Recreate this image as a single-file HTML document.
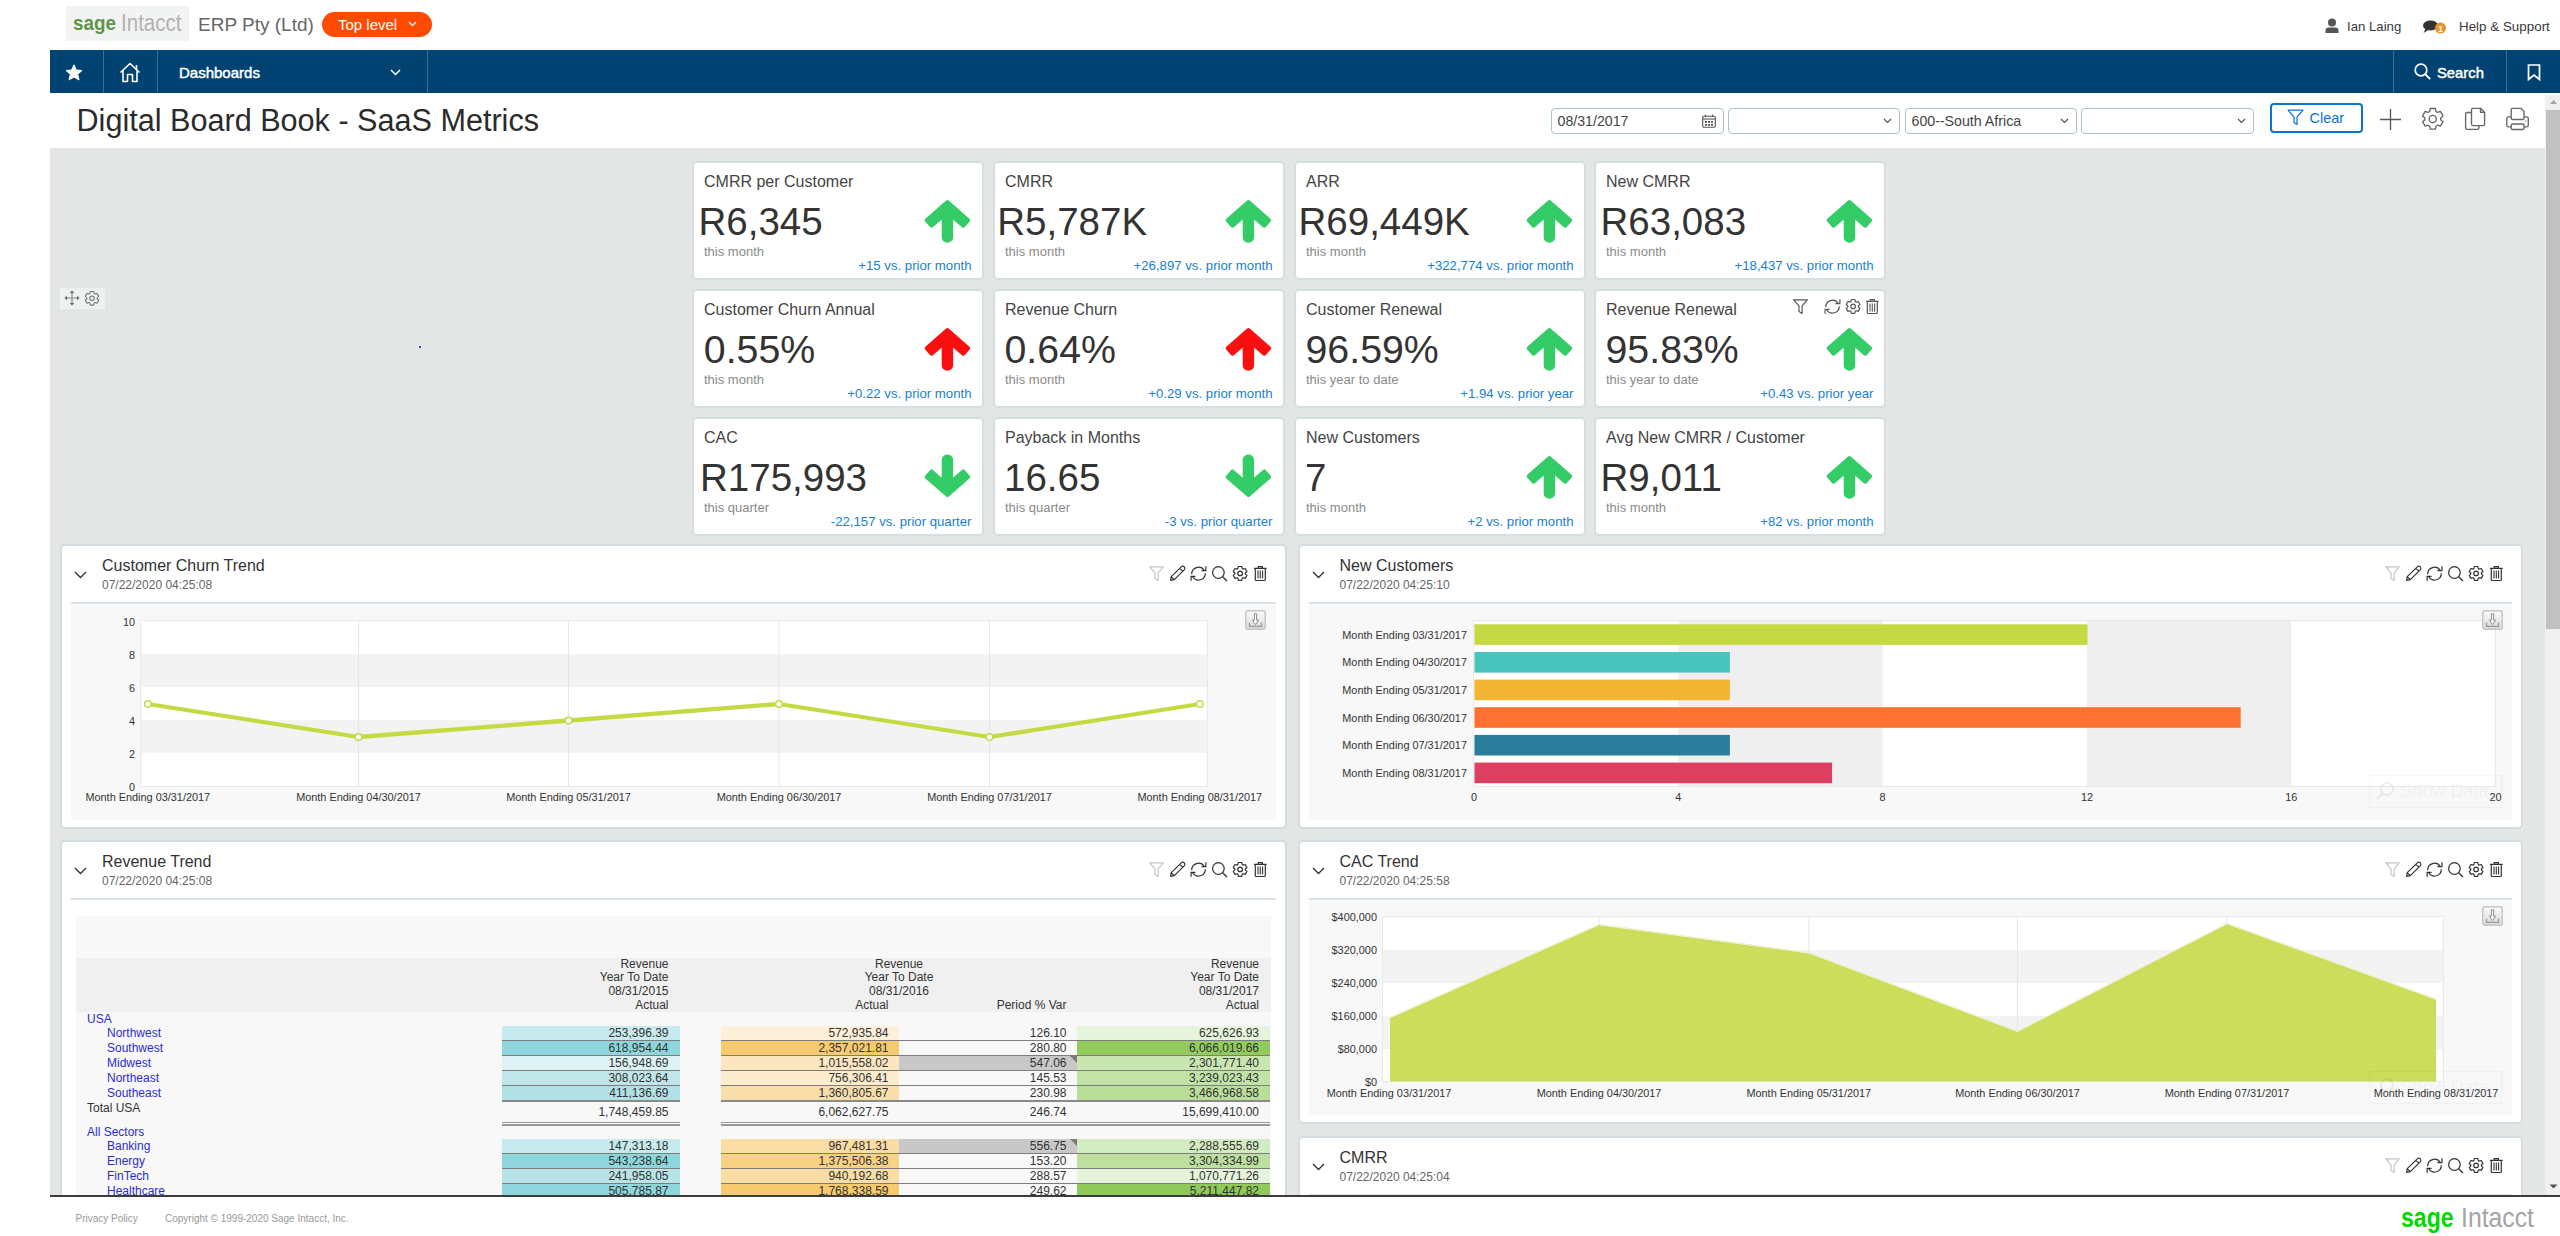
<!DOCTYPE html><html><head><meta charset="utf-8"><style>
html,body{margin:0;padding:0;}
body{width:2560px;height:1236px;overflow:hidden;position:relative;background:#fff;font-family:"Liberation Sans",sans-serif;}
.t{position:absolute;white-space:nowrap;}
.r{position:absolute;box-sizing:border-box;}
</style></head><body>
<div class="r" style="left:66px;top:6px;width:123px;height:35px;background:#f2f4f4;"></div>
<div class="t" style="left:72.80px;top:12.95px;font-size:20.5px;line-height:20.5px;color:#5f9548;font-weight:bold;transform:scaleX(0.92);transform-origin:0 0;">sage</div>
<div class="t" style="left:120.70px;top:12.01px;font-size:23.5px;line-height:23.5px;color:#b2b2b2;font-weight:normal;transform:scaleX(0.875);transform-origin:0 0;">Intacct</div>
<div class="t" style="left:198.00px;top:15.42px;font-size:19px;line-height:19px;color:#666;font-weight:normal;">ERP Pty (Ltd)</div>
<div class="r" style="left:322px;top:12px;width:110px;height:25px;background:#ff4a00;border-radius:13px;"></div>
<div class="t" style="left:338.00px;top:17.30px;font-size:15px;line-height:15px;color:#fff;font-weight:normal;">Top level</div>
<svg class="r" style="left:408px;top:21px;" width="9" height="6" viewBox="0 0 9 6"><path d="M1 1 L4.5 4.5 L8 1" fill="none" stroke="#fff" stroke-width="1.4"/></svg>
<svg class="r" style="left:2325px;top:18.3px;" width="14" height="15" viewBox="0 0 14 15"><circle cx="7" cy="4.5" r="4" fill="#555"/><path d="M0.5 15 L0.5 12.5 Q0.5 9.5 4 9.5 L10 9.5 Q13.5 9.5 13.5 12.5 L13.5 15 Z" fill="#555"/></svg>
<div class="t" style="left:2347.00px;top:20.33px;font-size:13.2px;line-height:13.2px;color:#3a3a3a;font-weight:normal;">Ian Laing</div>
<svg class="r" style="left:2422px;top:20px;" width="26" height="14" viewBox="0 0 26 14"><ellipse cx="8.5" cy="5.5" rx="7.5" ry="5" fill="#333"/><path d="M1.5 13 L4 8 L8 9 Z" fill="#333"/><circle cx="18.5" cy="8" r="5.5" fill="#e8922a"/><text x="18.5" y="11.5" font-size="9" font-weight="bold" text-anchor="middle" fill="#fff" font-family="Liberation Sans">1</text></svg>
<div class="t" style="left:2459.00px;top:20.16px;font-size:13.4px;line-height:13.4px;color:#3a3a3a;font-weight:normal;">Help &amp; Support</div>
<div class="r" style="left:50px;top:50px;width:2510px;height:43px;background:#004372;"></div>
<div class="r" style="left:103px;top:50px;width:1px;height:43px;background:#3e6c90;"></div>
<div class="r" style="left:157px;top:50px;width:1px;height:43px;background:#3e6c90;"></div>
<div class="r" style="left:427px;top:50px;width:1px;height:43px;background:#3e6c90;"></div>
<div class="r" style="left:2393px;top:50px;width:1px;height:43px;background:#3e6c90;"></div>
<div class="r" style="left:2506px;top:50px;width:1px;height:43px;background:#3e6c90;"></div>
<svg class="r" style="left:65px;top:64px;" width="18" height="18" viewBox="0 0 18 18"><path d="M9 0.8 L11.3 6 L17 6.5 L12.7 10.3 L14 16 L9 13 L4 16 L5.3 10.3 L1 6.5 L6.7 6 Z" fill="#fff" stroke="#fff" stroke-width="1" stroke-linejoin="round"/></svg>
<svg class="r" style="left:119px;top:61.7px;" width="22" height="21" viewBox="0 0 22 21"><path d="M1.5 10.5 L11 1.5 L20.5 10.5 M17.5 3 L17.5 7.5 M4 8.5 L4 19.5 L8.5 19.5 L8.5 12.5 L13.5 12.5 L13.5 19.5 L18 19.5 L18 8.5" fill="none" stroke="#fff" stroke-width="1.6" stroke-linejoin="round"/></svg>
<div class="t" style="left:179.00px;top:65.00px;font-size:15px;line-height:15px;color:#fff;font-weight:normal;-webkit-text-stroke:0.45px #fff;">Dashboards</div>
<svg class="r" style="left:390px;top:69px;" width="11" height="7" viewBox="0 0 11 7"><path d="M1 1 L5.5 5.5 L10 1" fill="none" stroke="#fff" stroke-width="1.5"/></svg>
<svg class="r" style="left:2414px;top:63px;" width="18" height="18" viewBox="0 0 18 18"><circle cx="7" cy="7" r="5.8" fill="none" stroke="#fff" stroke-width="1.7"/><path d="M11.2 11.2 L16.2 16.2" stroke="#fff" stroke-width="1.9"/></svg>
<div class="t" style="left:2437.00px;top:65.67px;font-size:14.8px;line-height:14.8px;color:#fff;font-weight:normal;-webkit-text-stroke:0.45px #fff;">Search</div>
<svg class="r" style="left:2527px;top:64px;" width="14" height="17" viewBox="0 0 14 17"><path d="M1.5 1 L12.5 1 L12.5 15.5 L7 11 L1.5 15.5 Z" fill="none" stroke="#fff" stroke-width="1.7" stroke-linejoin="miter"/></svg>
<div class="t" style="left:76.50px;top:105.10px;font-size:30.6px;line-height:30.6px;color:#2b2b2b;font-weight:normal;">Digital Board Book - SaaS Metrics</div>
<div class="r" style="left:1551px;top:108px;width:173px;height:26px;border:1px solid #a9c3cc;border-radius:4px;background:#fff;"></div>
<div class="t" style="left:1557.50px;top:114.38px;font-size:14.2px;line-height:14.2px;color:#444;font-weight:normal;">08/31/2017</div>
<svg class="r" style="left:1702px;top:114px;" width="14" height="14" viewBox="0 0 14 14"><rect x="0.7" y="2.2" width="12.6" height="11.1" rx="1.2" fill="none" stroke="#555" stroke-width="1.1"/><line x1="0.7" y1="5" x2="13.3" y2="5" stroke="#555" stroke-width="1.1"/><line x1="3.5" y1="0.5" x2="3.5" y2="3" stroke="#555" stroke-width="1.1"/><line x1="10.5" y1="0.5" x2="10.5" y2="3" stroke="#555" stroke-width="1.1"/><g fill="#555"><rect x="3" y="7" width="2" height="1.8"/><rect x="6" y="7" width="2" height="1.8"/><rect x="9" y="7" width="2" height="1.8"/><rect x="3" y="10" width="2" height="1.8"/><rect x="6" y="10" width="2" height="1.8"/><rect x="9" y="10" width="2" height="1.8"/></g></svg>
<div class="r" style="left:1728px;top:108px;width:172px;height:26px;border:1px solid #a9c3cc;border-radius:4px;background:#fff;"></div>
<svg class="r" style="left:1883px;top:118px;" width="9" height="6" viewBox="0 0 9 6"><path d="M1 1 L4.5 4.5 L8 1" fill="none" stroke="#555" stroke-width="1.2"/></svg>
<div class="r" style="left:1905px;top:108px;width:172px;height:26px;border:1px solid #a9c3cc;border-radius:4px;background:#fff;"></div>
<div class="t" style="left:1911.50px;top:114.38px;font-size:14.2px;line-height:14.2px;color:#444;font-weight:normal;">600--South Africa</div>
<svg class="r" style="left:2060px;top:118px;" width="9" height="6" viewBox="0 0 9 6"><path d="M1 1 L4.5 4.5 L8 1" fill="none" stroke="#555" stroke-width="1.2"/></svg>
<div class="r" style="left:2081px;top:108px;width:173px;height:26px;border:1px solid #a9c3cc;border-radius:4px;background:#fff;"></div>
<svg class="r" style="left:2237px;top:118px;" width="9" height="6" viewBox="0 0 9 6"><path d="M1 1 L4.5 4.5 L8 1" fill="none" stroke="#555" stroke-width="1.2"/></svg>
<div class="r" style="left:2270px;top:103px;width:93px;height:30px;border:2px solid #0a74cf;border-radius:4px;background:#fff;"></div>
<svg class="r" style="left:2287px;top:109px;" width="17" height="17" viewBox="0 0 17 17"><path d="M1 1.2 L16 1.2 L10 8.2 L10 15.5 L7 13.6 L7 8.2 Z" fill="none" stroke="#0a74cf" stroke-width="1.2" stroke-linejoin="round"/></svg>
<div class="t" style="left:2309.50px;top:110.73px;font-size:14.5px;line-height:14.5px;color:#0a74cf;font-weight:normal;">Clear</div>
<svg class="r" style="left:2380px;top:109px;" width="21" height="21" viewBox="0 0 21 21"><path d="M10.5 0 L10.5 21 M0 10.5 L21 10.5" stroke="#555" stroke-width="1.3"/></svg>
<svg class="r" style="left:2418px;top:104px" width="30" height="30" viewBox="2418 104 30 30"><path d="M2436.01 111.58 L2435.36 108.51 L2430.24 108.51 L2429.59 111.58 A7.90 7.90 0 0 0 2428.16 112.41 L2425.17 111.44 L2422.61 115.88 L2424.94 117.97 A7.90 7.90 0 0 0 2424.94 119.63 L2422.61 121.72 L2425.17 126.16 L2428.16 125.19 A7.90 7.90 0 0 0 2429.59 126.02 L2430.24 129.09 L2435.36 129.09 L2436.01 126.02 A7.90 7.90 0 0 0 2437.44 125.19 L2440.43 126.16 L2442.99 121.72 L2440.66 119.63 A7.90 7.90 0 0 0 2440.66 117.97 L2442.99 115.88 L2440.43 111.44 L2437.44 112.41 A7.90 7.90 0 0 0 2436.01 111.58 Z" fill="none" stroke="#666" stroke-width="1.35" stroke-linejoin="round"/><circle cx="2432.8" cy="119" r="3.6" fill="none" stroke="#666" stroke-width="1.35"/></svg>
<svg class="r" style="left:2460px;top:104px" width="30" height="30" viewBox="2460 104 30 30"><path d="M2471.5 112.5 L2467 112.5 Q2465.6 112.5 2465.6 114 L2465.6 128 Q2465.6 129.4 2467 129.4 L2477.5 129.4 Q2478.9 129.4 2478.9 128 L2478.9 125.6" fill="none" stroke="#666" stroke-width="1.35"/><path d="M2473 108.3 L2480.5 108.3 L2484.6 112.4 L2484.6 124 Q2484.6 125.6 2483 125.6 L2473 125.6 Q2471.5 125.6 2471.5 124 L2471.5 109.8 Q2471.5 108.3 2473 108.3 Z M2480.5 108.3 L2480.5 112.4 L2484.6 112.4" fill="none" stroke="#666" stroke-width="1.35" stroke-linejoin="round"/></svg>
<svg class="r" style="left:2502px;top:104px" width="30" height="30" viewBox="2502 104 30 30"><path d="M2511.2 116.8 L2508.5 116.8 Q2506.8 116.8 2506.8 118.8 L2506.8 125.2 Q2506.8 126.8 2508.5 126.8 L2511.2 126.8 M2524 116.8 L2526.6 116.8 Q2528.3 116.8 2528.3 118.8 L2528.3 125.2 Q2528.3 126.8 2526.6 126.8 L2524 126.8" fill="none" stroke="#666" stroke-width="1.35"/><path d="M2512.5 108.3 L2521 108.3 L2524 111.3 L2524 118.2 Q2524 119.5 2522.7 119.5 L2512.5 119.5 Q2511.2 119.5 2511.2 118.2 L2511.2 109.6 Q2511.2 108.3 2512.5 108.3 Z" fill="none" stroke="#666" stroke-width="1.35" stroke-linejoin="round"/><rect x="2511.2" y="124" width="12.8" height="5.5" rx="1.3" fill="none" stroke="#666" stroke-width="1.35"/><circle cx="2525.6" cy="121" r="0.7" fill="#888"/></svg>
<div class="r" style="left:50px;top:148px;width:2495px;height:1048px;background:#e4e6e6;"></div>
<div class="r" style="left:2545px;top:94.5px;width:15px;height:1101.5px;background:#f0f0f0;"></div>
<div class="r" style="left:2546px;top:110px;width:14px;height:519px;background:#c1c1c1;"></div>
<svg class="r" style="left:2548.5px;top:99px;" width="10" height="6" viewBox="0 0 10 6"><path d="M1 5 L4.5 1 L8 5 Z" fill="#a3a3a3"/></svg>
<svg class="r" style="left:2549px;top:1184px;" width="9" height="5" viewBox="0 0 9 5"><path d="M0.5 0.5 L8.5 0.5 L4.5 4.5 Z" fill="#505050"/></svg>
<div class="r" style="left:60px;top:288px;width:45px;height:21px;background:#eef1f2;"></div>
<svg class="r" style="left:64px;top:290px;" width="16" height="16" viewBox="0 0 16 16"><path d="M8 1.5 L8 14.5 M1.5 8 L14.5 8" stroke="#888" stroke-width="1.2"/><path d="M8 0.5 L5.8 3 L10.2 3 Z M8 15.5 L5.8 13 L10.2 13 Z M0.5 8 L3 5.8 L3 10.2 Z M15.5 8 L13 5.8 L13 10.2 Z" fill="#666"/></svg>
<svg class="r" style="left:83.3px;top:288.5px" width="20.0" height="20.0" viewBox="83.3 288.5 20.0 20.0"><path d="M94.49 293.11 L93.99 291.01 L90.61 291.01 L90.11 293.11 A5.18 5.18 0 0 0 89.33 293.56 L87.26 292.94 L85.57 295.87 L87.14 297.35 A5.18 5.18 0 0 0 87.14 298.25 L85.57 299.73 L87.26 302.66 L89.33 302.04 A5.18 5.18 0 0 0 90.11 302.49 L90.61 304.59 L93.99 304.59 L94.49 302.49 A5.18 5.18 0 0 0 95.27 302.04 L97.34 302.66 L99.03 299.73 L97.46 298.25 A5.18 5.18 0 0 0 97.46 297.35 L99.03 295.87 L97.34 292.94 L95.27 293.56 A5.18 5.18 0 0 0 94.49 293.11 Z" fill="none" stroke="#777" stroke-width="1.1" stroke-linejoin="round"/><circle cx="92.3" cy="297.8" r="2.24" fill="none" stroke="#777" stroke-width="1.1"/></svg>
<div class="r" style="left:419px;top:346px;width:2px;height:2px;background:#3a3adf;"></div>
<div class="r" style="left:692px;top:161px;width:292px;height:118.5px;background:#fff;border:2px solid #d6dee2;border-radius:5px;"></div>
<div class="t" style="left:704.00px;top:173.76px;font-size:16px;line-height:16px;color:#444;font-weight:normal;">CMRR per Customer</div>
<div class="t" style="left:698.50px;top:202.91px;font-size:38.5px;line-height:38.5px;color:#333;font-weight:normal;">R6,345</div>
<div class="t" style="left:704.00px;top:245.00px;font-size:13px;line-height:13px;color:#8a8a8a;font-weight:normal;">this month</div>
<div class="t" style="left:-228.50px;width:1200px;text-align:right;top:259.13px;font-size:13.2px;line-height:13.2px;color:#1a7fd0;font-weight:normal;">+15 vs. prior month</div>
<svg class="r" style="left:918px;top:192px" width="60" height="60" viewBox="918 192 60 60"><path d="M947.40 202.10 L968.17 220.15 L963.31 225.73 L951.10 215.12 L951.10 237.50 A3.7 3.2 0 0 1 943.70 237.50 L943.70 215.12 L931.49 225.73 L926.63 220.15 Z" fill="#34cc66" stroke="#34cc66" stroke-width="4" stroke-linejoin="round"/></svg>
<div class="r" style="left:993px;top:161px;width:292px;height:118.5px;background:#fff;border:2px solid #d6dee2;border-radius:5px;"></div>
<div class="t" style="left:1005.00px;top:173.76px;font-size:16px;line-height:16px;color:#444;font-weight:normal;">CMRR</div>
<div class="t" style="left:997.30px;top:202.91px;font-size:38.5px;line-height:38.5px;color:#333;font-weight:normal;">R5,787K</div>
<div class="t" style="left:1005.00px;top:245.00px;font-size:13px;line-height:13px;color:#8a8a8a;font-weight:normal;">this month</div>
<div class="t" style="left:72.50px;width:1200px;text-align:right;top:259.13px;font-size:13.2px;line-height:13.2px;color:#1a7fd0;font-weight:normal;">+26,897 vs. prior month</div>
<svg class="r" style="left:1219px;top:192px" width="60" height="60" viewBox="1219 192 60 60"><path d="M1248.40 202.10 L1269.17 220.15 L1264.31 225.73 L1252.10 215.12 L1252.10 237.50 A3.7 3.2 0 0 1 1244.70 237.50 L1244.70 215.12 L1232.49 225.73 L1227.63 220.15 Z" fill="#34cc66" stroke="#34cc66" stroke-width="4" stroke-linejoin="round"/></svg>
<div class="r" style="left:1294px;top:161px;width:292px;height:118.5px;background:#fff;border:2px solid #d6dee2;border-radius:5px;"></div>
<div class="t" style="left:1306.00px;top:173.76px;font-size:16px;line-height:16px;color:#444;font-weight:normal;">ARR</div>
<div class="t" style="left:1298.50px;top:202.91px;font-size:38.5px;line-height:38.5px;color:#333;font-weight:normal;">R69,449K</div>
<div class="t" style="left:1306.00px;top:245.00px;font-size:13px;line-height:13px;color:#8a8a8a;font-weight:normal;">this month</div>
<div class="t" style="left:373.50px;width:1200px;text-align:right;top:259.13px;font-size:13.2px;line-height:13.2px;color:#1a7fd0;font-weight:normal;">+322,774 vs. prior month</div>
<svg class="r" style="left:1520px;top:192px" width="60" height="60" viewBox="1520 192 60 60"><path d="M1549.40 202.10 L1570.17 220.15 L1565.31 225.73 L1553.10 215.12 L1553.10 237.50 A3.7 3.2 0 0 1 1545.70 237.50 L1545.70 215.12 L1533.49 225.73 L1528.63 220.15 Z" fill="#34cc66" stroke="#34cc66" stroke-width="4" stroke-linejoin="round"/></svg>
<div class="r" style="left:1594px;top:161px;width:292px;height:118.5px;background:#fff;border:2px solid #d6dee2;border-radius:5px;"></div>
<div class="t" style="left:1606.00px;top:173.76px;font-size:16px;line-height:16px;color:#444;font-weight:normal;">New CMRR</div>
<div class="t" style="left:1600.50px;top:202.91px;font-size:38.5px;line-height:38.5px;color:#333;font-weight:normal;">R63,083</div>
<div class="t" style="left:1606.00px;top:245.00px;font-size:13px;line-height:13px;color:#8a8a8a;font-weight:normal;">this month</div>
<div class="t" style="left:673.50px;width:1200px;text-align:right;top:259.13px;font-size:13.2px;line-height:13.2px;color:#1a7fd0;font-weight:normal;">+18,437 vs. prior month</div>
<svg class="r" style="left:1820px;top:192px" width="60" height="60" viewBox="1820 192 60 60"><path d="M1849.40 202.10 L1870.17 220.15 L1865.31 225.73 L1853.10 215.12 L1853.10 237.50 A3.7 3.2 0 0 1 1845.70 237.50 L1845.70 215.12 L1833.49 225.73 L1828.63 220.15 Z" fill="#34cc66" stroke="#34cc66" stroke-width="4" stroke-linejoin="round"/></svg>
<div class="r" style="left:692px;top:289px;width:292px;height:118.5px;background:#fff;border:2px solid #d6dee2;border-radius:5px;"></div>
<div class="t" style="left:704.00px;top:301.76px;font-size:16px;line-height:16px;color:#444;font-weight:normal;">Customer Churn Annual</div>
<div class="t" style="left:703.80px;top:330.23px;font-size:39.3px;line-height:39.3px;color:#333;font-weight:normal;">0.55%</div>
<div class="t" style="left:704.00px;top:373.00px;font-size:13px;line-height:13px;color:#8a8a8a;font-weight:normal;">this month</div>
<div class="t" style="left:-228.50px;width:1200px;text-align:right;top:387.13px;font-size:13.2px;line-height:13.2px;color:#1a7fd0;font-weight:normal;">+0.22 vs. prior month</div>
<svg class="r" style="left:918px;top:320px" width="60" height="60" viewBox="918 320 60 60"><path d="M947.40 330.10 L968.17 348.15 L963.31 353.73 L951.10 343.12 L951.10 365.50 A3.7 3.2 0 0 1 943.70 365.50 L943.70 343.12 L931.49 353.73 L926.63 348.15 Z" fill="#f90f0f" stroke="#f90f0f" stroke-width="4" stroke-linejoin="round"/></svg>
<div class="r" style="left:993px;top:289px;width:292px;height:118.5px;background:#fff;border:2px solid #d6dee2;border-radius:5px;"></div>
<div class="t" style="left:1005.00px;top:301.76px;font-size:16px;line-height:16px;color:#444;font-weight:normal;">Revenue Churn</div>
<div class="t" style="left:1004.50px;top:330.23px;font-size:39.3px;line-height:39.3px;color:#333;font-weight:normal;">0.64%</div>
<div class="t" style="left:1005.00px;top:373.00px;font-size:13px;line-height:13px;color:#8a8a8a;font-weight:normal;">this month</div>
<div class="t" style="left:72.50px;width:1200px;text-align:right;top:387.13px;font-size:13.2px;line-height:13.2px;color:#1a7fd0;font-weight:normal;">+0.29 vs. prior month</div>
<svg class="r" style="left:1219px;top:320px" width="60" height="60" viewBox="1219 320 60 60"><path d="M1248.40 330.10 L1269.17 348.15 L1264.31 353.73 L1252.10 343.12 L1252.10 365.50 A3.7 3.2 0 0 1 1244.70 365.50 L1244.70 343.12 L1232.49 353.73 L1227.63 348.15 Z" fill="#f90f0f" stroke="#f90f0f" stroke-width="4" stroke-linejoin="round"/></svg>
<div class="r" style="left:1294px;top:289px;width:292px;height:118.5px;background:#fff;border:2px solid #d6dee2;border-radius:5px;"></div>
<div class="t" style="left:1306.00px;top:301.76px;font-size:16px;line-height:16px;color:#444;font-weight:normal;">Customer Renewal</div>
<div class="t" style="left:1305.50px;top:330.23px;font-size:39.3px;line-height:39.3px;color:#333;font-weight:normal;">96.59%</div>
<div class="t" style="left:1306.00px;top:373.00px;font-size:13px;line-height:13px;color:#8a8a8a;font-weight:normal;">this year to date</div>
<div class="t" style="left:373.50px;width:1200px;text-align:right;top:387.13px;font-size:13.2px;line-height:13.2px;color:#1a7fd0;font-weight:normal;">+1.94 vs. prior year</div>
<svg class="r" style="left:1520px;top:320px" width="60" height="60" viewBox="1520 320 60 60"><path d="M1549.40 330.10 L1570.17 348.15 L1565.31 353.73 L1553.10 343.12 L1553.10 365.50 A3.7 3.2 0 0 1 1545.70 365.50 L1545.70 343.12 L1533.49 353.73 L1528.63 348.15 Z" fill="#34cc66" stroke="#34cc66" stroke-width="4" stroke-linejoin="round"/></svg>
<div class="r" style="left:1594px;top:289px;width:292px;height:118.5px;background:#fff;border:2px solid #d6dee2;border-radius:5px;"></div>
<div class="t" style="left:1606.00px;top:301.76px;font-size:16px;line-height:16px;color:#444;font-weight:normal;">Revenue Renewal</div>
<div class="t" style="left:1605.50px;top:330.23px;font-size:39.3px;line-height:39.3px;color:#333;font-weight:normal;">95.83%</div>
<div class="t" style="left:1606.00px;top:373.00px;font-size:13px;line-height:13px;color:#8a8a8a;font-weight:normal;">this year to date</div>
<div class="t" style="left:673.50px;width:1200px;text-align:right;top:387.13px;font-size:13.2px;line-height:13.2px;color:#1a7fd0;font-weight:normal;">+0.43 vs. prior year</div>
<svg class="r" style="left:1820px;top:320px" width="60" height="60" viewBox="1820 320 60 60"><path d="M1849.40 330.10 L1870.17 348.15 L1865.31 353.73 L1853.10 343.12 L1853.10 365.50 A3.7 3.2 0 0 1 1845.70 365.50 L1845.70 343.12 L1833.49 353.73 L1828.63 348.15 Z" fill="#34cc66" stroke="#34cc66" stroke-width="4" stroke-linejoin="round"/></svg>
<div class="r" style="left:692px;top:417px;width:292px;height:118.5px;background:#fff;border:2px solid #d6dee2;border-radius:5px;"></div>
<div class="t" style="left:704.00px;top:429.76px;font-size:16px;line-height:16px;color:#444;font-weight:normal;">CAC</div>
<div class="t" style="left:700.00px;top:458.91px;font-size:38.5px;line-height:38.5px;color:#333;font-weight:normal;">R175,993</div>
<div class="t" style="left:704.00px;top:501.00px;font-size:13px;line-height:13px;color:#8a8a8a;font-weight:normal;">this quarter</div>
<div class="t" style="left:-228.50px;width:1200px;text-align:right;top:515.13px;font-size:13.2px;line-height:13.2px;color:#1a7fd0;font-weight:normal;">-22,157 vs. prior quarter</div>
<svg class="r" style="left:918px;top:448px" width="60" height="60" viewBox="918 448 60 60"><path d="M947.40 495.10 L968.17 477.05 L963.31 471.47 L951.10 482.08 L951.10 459.70 A3.7 3.2 0 0 0 943.70 459.70 L943.70 482.08 L931.49 471.47 L926.63 477.05 Z" fill="#34cc66" stroke="#34cc66" stroke-width="4" stroke-linejoin="round"/></svg>
<div class="r" style="left:993px;top:417px;width:292px;height:118.5px;background:#fff;border:2px solid #d6dee2;border-radius:5px;"></div>
<div class="t" style="left:1005.00px;top:429.76px;font-size:16px;line-height:16px;color:#444;font-weight:normal;">Payback in Months</div>
<div class="t" style="left:1004.00px;top:458.91px;font-size:38.5px;line-height:38.5px;color:#333;font-weight:normal;">16.65</div>
<div class="t" style="left:1005.00px;top:501.00px;font-size:13px;line-height:13px;color:#8a8a8a;font-weight:normal;">this quarter</div>
<div class="t" style="left:72.50px;width:1200px;text-align:right;top:515.13px;font-size:13.2px;line-height:13.2px;color:#1a7fd0;font-weight:normal;">-3 vs. prior quarter</div>
<svg class="r" style="left:1219px;top:448px" width="60" height="60" viewBox="1219 448 60 60"><path d="M1248.40 495.10 L1269.17 477.05 L1264.31 471.47 L1252.10 482.08 L1252.10 459.70 A3.7 3.2 0 0 0 1244.70 459.70 L1244.70 482.08 L1232.49 471.47 L1227.63 477.05 Z" fill="#34cc66" stroke="#34cc66" stroke-width="4" stroke-linejoin="round"/></svg>
<div class="r" style="left:1294px;top:417px;width:292px;height:118.5px;background:#fff;border:2px solid #d6dee2;border-radius:5px;"></div>
<div class="t" style="left:1306.00px;top:429.76px;font-size:16px;line-height:16px;color:#444;font-weight:normal;">New Customers</div>
<div class="t" style="left:1305.00px;top:458.91px;font-size:38.5px;line-height:38.5px;color:#333;font-weight:normal;">7</div>
<div class="t" style="left:1306.00px;top:501.00px;font-size:13px;line-height:13px;color:#8a8a8a;font-weight:normal;">this month</div>
<div class="t" style="left:373.50px;width:1200px;text-align:right;top:515.13px;font-size:13.2px;line-height:13.2px;color:#1a7fd0;font-weight:normal;">+2 vs. prior month</div>
<svg class="r" style="left:1520px;top:448px" width="60" height="60" viewBox="1520 448 60 60"><path d="M1549.40 458.10 L1570.17 476.15 L1565.31 481.73 L1553.10 471.12 L1553.10 493.50 A3.7 3.2 0 0 1 1545.70 493.50 L1545.70 471.12 L1533.49 481.73 L1528.63 476.15 Z" fill="#34cc66" stroke="#34cc66" stroke-width="4" stroke-linejoin="round"/></svg>
<div class="r" style="left:1594px;top:417px;width:292px;height:118.5px;background:#fff;border:2px solid #d6dee2;border-radius:5px;"></div>
<div class="t" style="left:1606.00px;top:429.76px;font-size:16px;line-height:16px;color:#444;font-weight:normal;">Avg New CMRR / Customer</div>
<div class="t" style="left:1600.50px;top:458.91px;font-size:38.5px;line-height:38.5px;color:#333;font-weight:normal;">R9,011</div>
<div class="t" style="left:1606.00px;top:501.00px;font-size:13px;line-height:13px;color:#8a8a8a;font-weight:normal;">this month</div>
<div class="t" style="left:673.50px;width:1200px;text-align:right;top:515.13px;font-size:13.2px;line-height:13.2px;color:#1a7fd0;font-weight:normal;">+82 vs. prior month</div>
<svg class="r" style="left:1820px;top:448px" width="60" height="60" viewBox="1820 448 60 60"><path d="M1849.40 458.10 L1870.17 476.15 L1865.31 481.73 L1853.10 471.12 L1853.10 493.50 A3.7 3.2 0 0 1 1845.70 493.50 L1845.70 471.12 L1833.49 481.73 L1828.63 476.15 Z" fill="#34cc66" stroke="#34cc66" stroke-width="4" stroke-linejoin="round"/></svg>
<svg class="r" style="left:1791px;top:297px" width="20" height="20" viewBox="1791 297 20 20"><g transform="translate(1793,299)"><path d="M0.7 0.8 L14.3 0.8 L9.1 6.9 L9.1 14.4 L6 12.6 L6 6.9 Z" fill="none" stroke="#555" stroke-width="1.2" stroke-linejoin="round"/></g></svg>
<svg class="r" style="left:1823px;top:297px" width="20" height="20" viewBox="1823 297 20 20"><g transform="translate(1825,299)"><path d="M0.7 8.3 A6.8 6.8 0 0 1 13.2 4.4 M14.3 7.2 A6.8 6.8 0 0 1 1.8 11" fill="none" stroke="#555" stroke-width="1.2"/><path d="M14.9 0.2 L14.9 4.6 L10.5 4.6 M0.1 14.8 L0.1 10.4 L4.5 10.4" fill="none" stroke="#555" stroke-width="1.2"/></g></svg>
<svg class="r" style="left:1844px;top:297px" width="20" height="20" viewBox="1844 297 20 20"><path d="M1855.32 301.64 L1854.82 299.51 L1851.38 299.51 L1850.88 301.64 A5.25 5.25 0 0 0 1850.09 302.10 L1847.99 301.47 L1846.28 304.44 L1847.87 305.94 A5.25 5.25 0 0 0 1847.87 306.86 L1846.28 308.36 L1847.99 311.33 L1850.09 310.70 A5.25 5.25 0 0 0 1850.88 311.16 L1851.38 313.29 L1854.82 313.29 L1855.32 311.16 A5.25 5.25 0 0 0 1856.11 310.70 L1858.21 311.33 L1859.92 308.36 L1858.33 306.86 A5.25 5.25 0 0 0 1858.33 305.94 L1859.92 304.44 L1858.21 301.47 L1856.11 302.10 A5.25 5.25 0 0 0 1855.32 301.64 Z" fill="none" stroke="#555" stroke-width="1.2" stroke-linejoin="round"/><circle cx="1853.1" cy="306.40000000000003" r="2.27" fill="none" stroke="#555" stroke-width="1.2"/></svg>
<svg class="r" style="left:1864.3px;top:297px" width="20.0" height="20" viewBox="1864.3 297 20.0 20"><g transform="translate(1866.3,299)"><path d="M0 2.3 L12.6 2.3 M4.2 2.3 L4.2 0.6 L8.4 0.6 L8.4 2.3 M1.3 2.3 L1.3 13.6 Q1.3 14.5 2.2 14.5 L10.4 14.5 Q11.3 14.5 11.3 13.6 L11.3 2.3" fill="none" stroke="#555" stroke-width="1.2"/><path d="M4 4.6 L4 12.6 M6.3 4.6 L6.3 12.6 M8.6 4.6 L8.6 12.6" stroke="#555" stroke-width="1.1"/></g></svg>
<div class="r" style="left:60px;top:544px;width:1227px;height:285px;background:#fff;border:2px solid #d4dce1;border-radius:5px;"></div>
<svg class="r" style="left:74px;top:571px;" width="13" height="8" viewBox="0 0 13 8"><path d="M1 1 L6.5 6.5 L12 1" fill="none" stroke="#333" stroke-width="1.4"/></svg>
<div class="t" style="left:102.00px;top:557.76px;font-size:16px;line-height:16px;color:#333;font-weight:normal;">Customer Churn Trend</div>
<div class="t" style="left:102.00px;top:578.84px;font-size:12px;line-height:12px;color:#666;font-weight:normal;">07/22/2020 04:25:08</div>
<div class="r" style="left:71px;top:602px;width:1205px;height:2px;background:#d9e2e6;"></div>
<svg class="r" style="left:1147.0px;top:564px" width="20.0" height="20" viewBox="1147.0 564 20.0 20"><g transform="translate(1149.0,566)"><path d="M0.7 0.8 L14.3 0.8 L9.1 6.9 L9.1 14.4 L6 12.6 L6 6.9 Z" fill="none" stroke="#c4c4c4" stroke-width="1.2" stroke-linejoin="round"/></g></svg>
<svg class="r" style="left:1168.0px;top:564px" width="20.0" height="20" viewBox="1168.0 564 20.0 20"><g transform="translate(1170.0,566)"><path d="M0.6 14.4 L1.2 10.6 L11.3 0.9 Q12.9 -0.5 14.3 0.9 Q15.6 2.3 14.2 3.8 L4.3 13.7 Z M9.9 2.3 L12.8 5.2 M1.2 10.6 L4.3 13.7" fill="none" stroke="#333" stroke-width="1.2" stroke-linejoin="round"/></g></svg>
<svg class="r" style="left:1189.0px;top:564px" width="20.0" height="20" viewBox="1189.0 564 20.0 20"><g transform="translate(1191.0,566)"><path d="M0.7 8.3 A6.8 6.8 0 0 1 13.2 4.4 M14.3 7.2 A6.8 6.8 0 0 1 1.8 11" fill="none" stroke="#333" stroke-width="1.2"/><path d="M14.9 0.2 L14.9 4.6 L10.5 4.6 M0.1 14.8 L0.1 10.4 L4.5 10.4" fill="none" stroke="#333" stroke-width="1.2"/></g></svg>
<svg class="r" style="left:1209.5px;top:564px" width="20.0" height="20" viewBox="1209.5 564 20.0 20"><g transform="translate(1211.5,566)"><circle cx="6.4" cy="6.5" r="5.8" fill="none" stroke="#333" stroke-width="1.2"/><path d="M10.6 10.7 L15 15.1" stroke="#333" stroke-width="1.4"/></g></svg>
<svg class="r" style="left:1231.1px;top:564.2px" width="20.0" height="20.0" viewBox="1231.1 564.2 20.0 20.0"><path d="M1242.42 568.84 L1241.92 566.71 L1238.48 566.71 L1237.98 568.84 A5.25 5.25 0 0 0 1237.19 569.30 L1235.09 568.67 L1233.38 571.64 L1234.97 573.14 A5.25 5.25 0 0 0 1234.97 574.06 L1233.38 575.56 L1235.09 578.53 L1237.19 577.90 A5.25 5.25 0 0 0 1237.98 578.36 L1238.48 580.49 L1241.92 580.49 L1242.42 578.36 A5.25 5.25 0 0 0 1243.21 577.90 L1245.31 578.53 L1247.02 575.56 L1245.43 574.06 A5.25 5.25 0 0 0 1245.43 573.14 L1247.02 571.64 L1245.31 568.67 L1243.21 569.30 A5.25 5.25 0 0 0 1242.42 568.84 Z" fill="none" stroke="#333" stroke-width="1.2" stroke-linejoin="round"/><circle cx="1240.1999999999998" cy="573.6" r="2.27" fill="none" stroke="#333" stroke-width="1.2"/></svg>
<svg class="r" style="left:1251.9px;top:564.2px" width="20.0" height="20.0" viewBox="1251.9 564.2 20.0 20.0"><g transform="translate(1253.9,566.2)"><path d="M0 2.3 L12.6 2.3 M4.2 2.3 L4.2 0.6 L8.4 0.6 L8.4 2.3 M1.3 2.3 L1.3 13.6 Q1.3 14.5 2.2 14.5 L10.4 14.5 Q11.3 14.5 11.3 13.6 L11.3 2.3" fill="none" stroke="#333" stroke-width="1.2"/><path d="M4 4.6 L4 12.6 M6.3 4.6 L6.3 12.6 M8.6 4.6 L8.6 12.6" stroke="#333" stroke-width="1.1"/></g></svg>
<div class="r" style="left:71px;top:604px;width:1205px;height:216px;background:#f8f8f8;"></div>
<svg class="r" style="left:71px;top:604px" width="1205" height="216" viewBox="71 604 1205 216"><rect x="140.5" y="620.5" width="1067" height="166" fill="#fff" stroke="#e8e8e8"/><rect x="141" y="654" width="1066" height="33" fill="#f3f3f3"/><rect x="141" y="720" width="1066" height="33" fill="#f3f3f3"/><line x1="358.5" y1="621" x2="358.5" y2="786" stroke="#e6e6e6" stroke-width="1"/><line x1="568.5" y1="621" x2="568.5" y2="786" stroke="#e6e6e6" stroke-width="1"/><line x1="779" y1="621" x2="779" y2="786" stroke="#e6e6e6" stroke-width="1"/><line x1="989.5" y1="621" x2="989.5" y2="786" stroke="#e6e6e6" stroke-width="1"/><text x="135" y="625.5" font-size="10.9" text-anchor="end" fill="#333" font-family="Liberation Sans">10</text><text x="135" y="658.5" font-size="10.9" text-anchor="end" fill="#333" font-family="Liberation Sans">8</text><text x="135" y="691.6" font-size="10.9" text-anchor="end" fill="#333" font-family="Liberation Sans">6</text><text x="135" y="724.6" font-size="10.9" text-anchor="end" fill="#333" font-family="Liberation Sans">4</text><text x="135" y="757.7" font-size="10.9" text-anchor="end" fill="#333" font-family="Liberation Sans">2</text><text x="135" y="790.7" font-size="10.9" text-anchor="end" fill="#333" font-family="Liberation Sans">0</text><path d="M147.8 704.0 L358.5 737.0 L568.5 720.5 L779 704.0 L989.5 737.0 L1199.8 704.0" fill="none" stroke="#c5da42" stroke-width="4.3" stroke-linejoin="round"/><circle cx="147.8" cy="704.0" r="3.3" fill="#fff" stroke="#c5da42" stroke-width="1.5"/><circle cx="358.5" cy="737.0" r="3.3" fill="#fff" stroke="#c5da42" stroke-width="1.5"/><circle cx="568.5" cy="720.5" r="3.3" fill="#fff" stroke="#c5da42" stroke-width="1.5"/><circle cx="779" cy="704.0" r="3.3" fill="#fff" stroke="#c5da42" stroke-width="1.5"/><circle cx="989.5" cy="737.0" r="3.3" fill="#fff" stroke="#c5da42" stroke-width="1.5"/><circle cx="1199.8" cy="704.0" r="3.3" fill="#fff" stroke="#c5da42" stroke-width="1.5"/><text x="147.8" y="801" font-size="10.9" text-anchor="middle" fill="#333" font-family="Liberation Sans">Month Ending 03/31/2017</text><text x="358.5" y="801" font-size="10.9" text-anchor="middle" fill="#333" font-family="Liberation Sans">Month Ending 04/30/2017</text><text x="568.5" y="801" font-size="10.9" text-anchor="middle" fill="#333" font-family="Liberation Sans">Month Ending 05/31/2017</text><text x="779" y="801" font-size="10.9" text-anchor="middle" fill="#333" font-family="Liberation Sans">Month Ending 06/30/2017</text><text x="989.5" y="801" font-size="10.9" text-anchor="middle" fill="#333" font-family="Liberation Sans">Month Ending 07/31/2017</text><text x="1199.8" y="801" font-size="10.9" text-anchor="middle" fill="#333" font-family="Liberation Sans">Month Ending 08/31/2017</text></svg>
<svg class="r" style="left:1245px;top:610px;" width="21" height="20" viewBox="0 0 21 20"><defs><linearGradient id="g1245610" x1="0" y1="0" x2="0" y2="1"><stop offset="0" stop-color="#fbfbfb"/><stop offset="1" stop-color="#d9d9d9"/></linearGradient></defs><rect x="0.75" y="0.75" width="19.5" height="18.5" rx="2.5" fill="url(#g1245610)" stroke="#c6c6c6" stroke-width="1.5"/><path d="M4.5 12.8 L4.5 16.3 L16.5 16.3 L16.5 12.8" fill="none" stroke="#999" stroke-width="1.3"/><path d="M9.4 3.8 L11.6 3.8 L11.6 10.2 L13.6 10.2 L10.5 14.6 L7.4 10.2 L9.4 10.2 Z" fill="#fff" stroke="#8a8a8a" stroke-width="1" stroke-linejoin="round"/></svg>
<div class="r" style="left:1297.5px;top:544px;width:1225.5px;height:285px;background:#fff;border:2px solid #d4dce1;border-radius:5px;"></div>
<svg class="r" style="left:1311.5px;top:571px;" width="13" height="8" viewBox="0 0 13 8"><path d="M1 1 L6.5 6.5 L12 1" fill="none" stroke="#333" stroke-width="1.4"/></svg>
<div class="t" style="left:1339.50px;top:557.76px;font-size:16px;line-height:16px;color:#333;font-weight:normal;">New Customers</div>
<div class="t" style="left:1339.50px;top:578.84px;font-size:12px;line-height:12px;color:#666;font-weight:normal;">07/22/2020 04:25:10</div>
<div class="r" style="left:1308.5px;top:602px;width:1203.5px;height:2px;background:#d9e2e6;"></div>
<svg class="r" style="left:2383.0px;top:564px" width="20.0" height="20" viewBox="2383.0 564 20.0 20"><g transform="translate(2385.0,566)"><path d="M0.7 0.8 L14.3 0.8 L9.1 6.9 L9.1 14.4 L6 12.6 L6 6.9 Z" fill="none" stroke="#c4c4c4" stroke-width="1.2" stroke-linejoin="round"/></g></svg>
<svg class="r" style="left:2404.0px;top:564px" width="20.0" height="20" viewBox="2404.0 564 20.0 20"><g transform="translate(2406.0,566)"><path d="M0.6 14.4 L1.2 10.6 L11.3 0.9 Q12.9 -0.5 14.3 0.9 Q15.6 2.3 14.2 3.8 L4.3 13.7 Z M9.9 2.3 L12.8 5.2 M1.2 10.6 L4.3 13.7" fill="none" stroke="#333" stroke-width="1.2" stroke-linejoin="round"/></g></svg>
<svg class="r" style="left:2425.0px;top:564px" width="20.0" height="20" viewBox="2425.0 564 20.0 20"><g transform="translate(2427.0,566)"><path d="M0.7 8.3 A6.8 6.8 0 0 1 13.2 4.4 M14.3 7.2 A6.8 6.8 0 0 1 1.8 11" fill="none" stroke="#333" stroke-width="1.2"/><path d="M14.9 0.2 L14.9 4.6 L10.5 4.6 M0.1 14.8 L0.1 10.4 L4.5 10.4" fill="none" stroke="#333" stroke-width="1.2"/></g></svg>
<svg class="r" style="left:2445.5px;top:564px" width="20.0" height="20" viewBox="2445.5 564 20.0 20"><g transform="translate(2447.5,566)"><circle cx="6.4" cy="6.5" r="5.8" fill="none" stroke="#333" stroke-width="1.2"/><path d="M10.6 10.7 L15 15.1" stroke="#333" stroke-width="1.4"/></g></svg>
<svg class="r" style="left:2467.1px;top:564.2px" width="20.0" height="20.0" viewBox="2467.1 564.2 20.0 20.0"><path d="M2478.42 568.84 L2477.92 566.71 L2474.48 566.71 L2473.98 568.84 A5.25 5.25 0 0 0 2473.19 569.30 L2471.09 568.67 L2469.38 571.64 L2470.97 573.14 A5.25 5.25 0 0 0 2470.97 574.06 L2469.38 575.56 L2471.09 578.53 L2473.19 577.90 A5.25 5.25 0 0 0 2473.98 578.36 L2474.48 580.49 L2477.92 580.49 L2478.42 578.36 A5.25 5.25 0 0 0 2479.21 577.90 L2481.31 578.53 L2483.02 575.56 L2481.43 574.06 A5.25 5.25 0 0 0 2481.43 573.14 L2483.02 571.64 L2481.31 568.67 L2479.21 569.30 A5.25 5.25 0 0 0 2478.42 568.84 Z" fill="none" stroke="#333" stroke-width="1.2" stroke-linejoin="round"/><circle cx="2476.2" cy="573.6" r="2.27" fill="none" stroke="#333" stroke-width="1.2"/></svg>
<svg class="r" style="left:2487.9px;top:564.2px" width="20.0" height="20.0" viewBox="2487.9 564.2 20.0 20.0"><g transform="translate(2489.9,566.2)"><path d="M0 2.3 L12.6 2.3 M4.2 2.3 L4.2 0.6 L8.4 0.6 L8.4 2.3 M1.3 2.3 L1.3 13.6 Q1.3 14.5 2.2 14.5 L10.4 14.5 Q11.3 14.5 11.3 13.6 L11.3 2.3" fill="none" stroke="#333" stroke-width="1.2"/><path d="M4 4.6 L4 12.6 M6.3 4.6 L6.3 12.6 M8.6 4.6 L8.6 12.6" stroke="#333" stroke-width="1.1"/></g></svg>
<div class="r" style="left:1309px;top:604px;width:1203px;height:216px;background:#f8f8f8;"></div>
<svg class="r" style="left:1309px;top:604px" width="1203" height="216" viewBox="1309 604 1203 216"><rect x="1473.5" y="620.5" width="1022" height="166" fill="#fff" stroke="#e8e8e8"/><rect x="1678.32" y="621" width="204.32" height="165" fill="#efefef"/><rect x="2086.96" y="621" width="204.32" height="165" fill="#efefef"/><rect x="1474.5" y="624.3" width="612.96" height="20.6" fill="#c5d943"/><text x="1467" y="638.6" font-size="10.9" text-anchor="end" fill="#333" font-family="Liberation Sans">Month Ending 03/31/2017</text><rect x="1474.5" y="652.0" width="255.39999999999998" height="20.6" fill="#47c4bb"/><text x="1467" y="666.2" font-size="10.9" text-anchor="end" fill="#333" font-family="Liberation Sans">Month Ending 04/30/2017</text><rect x="1474.5" y="679.6" width="255.39999999999998" height="20.6" fill="#f4b434"/><text x="1467" y="693.9" font-size="10.9" text-anchor="end" fill="#333" font-family="Liberation Sans">Month Ending 05/31/2017</text><rect x="1474.5" y="707.2" width="766.1999999999999" height="20.6" fill="#fe7133"/><text x="1467" y="721.5" font-size="10.9" text-anchor="end" fill="#333" font-family="Liberation Sans">Month Ending 06/30/2017</text><rect x="1474.5" y="734.9" width="255.39999999999998" height="20.6" fill="#2a7d9b"/><text x="1467" y="749.2" font-size="10.9" text-anchor="end" fill="#333" font-family="Liberation Sans">Month Ending 07/31/2017</text><rect x="1474.5" y="762.6" width="357.56" height="20.6" fill="#dc3f60"/><text x="1467" y="776.9" font-size="10.9" text-anchor="end" fill="#333" font-family="Liberation Sans">Month Ending 08/31/2017</text><text x="1474.0" y="801.2" font-size="10.9" text-anchor="middle" fill="#333" font-family="Liberation Sans">0</text><text x="1678.32" y="801.2" font-size="10.9" text-anchor="middle" fill="#333" font-family="Liberation Sans">4</text><text x="1882.6399999999999" y="801.2" font-size="10.9" text-anchor="middle" fill="#333" font-family="Liberation Sans">8</text><text x="2086.96" y="801.2" font-size="10.9" text-anchor="middle" fill="#333" font-family="Liberation Sans">12</text><text x="2291.2799999999997" y="801.2" font-size="10.9" text-anchor="middle" fill="#333" font-family="Liberation Sans">16</text><text x="2495.6" y="801.2" font-size="10.9" text-anchor="middle" fill="#333" font-family="Liberation Sans">20</text></svg>
<svg class="r" style="left:2482px;top:610px;" width="21" height="20" viewBox="0 0 21 20"><defs><linearGradient id="g2482610" x1="0" y1="0" x2="0" y2="1"><stop offset="0" stop-color="#fbfbfb"/><stop offset="1" stop-color="#d9d9d9"/></linearGradient></defs><rect x="0.75" y="0.75" width="19.5" height="18.5" rx="2.5" fill="url(#g2482610)" stroke="#c6c6c6" stroke-width="1.5"/><path d="M4.5 12.8 L4.5 16.3 L16.5 16.3 L16.5 12.8" fill="none" stroke="#999" stroke-width="1.3"/><path d="M9.4 3.8 L11.6 3.8 L11.6 10.2 L13.6 10.2 L10.5 14.6 L7.4 10.2 L9.4 10.2 Z" fill="#fff" stroke="#8a8a8a" stroke-width="1" stroke-linejoin="round"/></svg>
<svg class="r" style="left:2369px;top:775px" width="133" height="33" viewBox="2369 775 133 33"><rect x="2369.5" y="775.5" width="132" height="32" fill="none" stroke="rgba(0,0,0,0.03)"/><circle cx="2387" cy="789" r="6" fill="none" stroke="rgba(0,0,0,0.06)" stroke-width="2"/><path d="M2382.5 793.5 L2377 799" stroke="rgba(0,0,0,0.06)" stroke-width="2.2"/><text x="2400.5" y="797" font-size="18" fill="rgba(0,0,0,0.055)" font-family="Liberation Sans">Show Data</text></svg>
<div class="r" style="left:1297.5px;top:840px;width:1225.5px;height:284px;background:#fff;border:2px solid #d4dce1;border-radius:5px;"></div>
<svg class="r" style="left:1311.5px;top:867px;" width="13" height="8" viewBox="0 0 13 8"><path d="M1 1 L6.5 6.5 L12 1" fill="none" stroke="#333" stroke-width="1.4"/></svg>
<div class="t" style="left:1339.50px;top:853.76px;font-size:16px;line-height:16px;color:#333;font-weight:normal;">CAC Trend</div>
<div class="t" style="left:1339.50px;top:874.84px;font-size:12px;line-height:12px;color:#666;font-weight:normal;">07/22/2020 04:25:58</div>
<div class="r" style="left:1308.5px;top:898px;width:1203.5px;height:2px;background:#d9e2e6;"></div>
<svg class="r" style="left:2383.0px;top:860px" width="20.0" height="20" viewBox="2383.0 860 20.0 20"><g transform="translate(2385.0,862)"><path d="M0.7 0.8 L14.3 0.8 L9.1 6.9 L9.1 14.4 L6 12.6 L6 6.9 Z" fill="none" stroke="#c4c4c4" stroke-width="1.2" stroke-linejoin="round"/></g></svg>
<svg class="r" style="left:2404.0px;top:860px" width="20.0" height="20" viewBox="2404.0 860 20.0 20"><g transform="translate(2406.0,862)"><path d="M0.6 14.4 L1.2 10.6 L11.3 0.9 Q12.9 -0.5 14.3 0.9 Q15.6 2.3 14.2 3.8 L4.3 13.7 Z M9.9 2.3 L12.8 5.2 M1.2 10.6 L4.3 13.7" fill="none" stroke="#333" stroke-width="1.2" stroke-linejoin="round"/></g></svg>
<svg class="r" style="left:2425.0px;top:860px" width="20.0" height="20" viewBox="2425.0 860 20.0 20"><g transform="translate(2427.0,862)"><path d="M0.7 8.3 A6.8 6.8 0 0 1 13.2 4.4 M14.3 7.2 A6.8 6.8 0 0 1 1.8 11" fill="none" stroke="#333" stroke-width="1.2"/><path d="M14.9 0.2 L14.9 4.6 L10.5 4.6 M0.1 14.8 L0.1 10.4 L4.5 10.4" fill="none" stroke="#333" stroke-width="1.2"/></g></svg>
<svg class="r" style="left:2445.5px;top:860px" width="20.0" height="20" viewBox="2445.5 860 20.0 20"><g transform="translate(2447.5,862)"><circle cx="6.4" cy="6.5" r="5.8" fill="none" stroke="#333" stroke-width="1.2"/><path d="M10.6 10.7 L15 15.1" stroke="#333" stroke-width="1.4"/></g></svg>
<svg class="r" style="left:2467.1px;top:860.2px" width="20.0" height="20.0" viewBox="2467.1 860.2 20.0 20.0"><path d="M2478.42 864.84 L2477.92 862.71 L2474.48 862.71 L2473.98 864.84 A5.25 5.25 0 0 0 2473.19 865.30 L2471.09 864.67 L2469.38 867.64 L2470.97 869.14 A5.25 5.25 0 0 0 2470.97 870.06 L2469.38 871.56 L2471.09 874.53 L2473.19 873.90 A5.25 5.25 0 0 0 2473.98 874.36 L2474.48 876.49 L2477.92 876.49 L2478.42 874.36 A5.25 5.25 0 0 0 2479.21 873.90 L2481.31 874.53 L2483.02 871.56 L2481.43 870.06 A5.25 5.25 0 0 0 2481.43 869.14 L2483.02 867.64 L2481.31 864.67 L2479.21 865.30 A5.25 5.25 0 0 0 2478.42 864.84 Z" fill="none" stroke="#333" stroke-width="1.2" stroke-linejoin="round"/><circle cx="2476.2" cy="869.6" r="2.27" fill="none" stroke="#333" stroke-width="1.2"/></svg>
<svg class="r" style="left:2487.9px;top:860.2px" width="20.0" height="20.0" viewBox="2487.9 860.2 20.0 20.0"><g transform="translate(2489.9,862.2)"><path d="M0 2.3 L12.6 2.3 M4.2 2.3 L4.2 0.6 L8.4 0.6 L8.4 2.3 M1.3 2.3 L1.3 13.6 Q1.3 14.5 2.2 14.5 L10.4 14.5 Q11.3 14.5 11.3 13.6 L11.3 2.3" fill="none" stroke="#333" stroke-width="1.2"/><path d="M4 4.6 L4 12.6 M6.3 4.6 L6.3 12.6 M8.6 4.6 L8.6 12.6" stroke="#333" stroke-width="1.1"/></g></svg>
<div class="r" style="left:1309px;top:900px;width:1203px;height:215px;background:#f8f8f8;"></div>
<svg class="r" style="left:1309px;top:900px" width="1203" height="215" viewBox="1309 900 1203 215"><rect x="1382.5" y="916.5" width="1061" height="165" fill="#fff" stroke="#e8e8e8"/><rect x="1383" y="950" width="1060" height="33" fill="#f3f3f3"/><rect x="1383" y="1016" width="1060" height="33" fill="#f3f3f3"/><line x1="1599" y1="917" x2="1599" y2="1081" stroke="#e6e6e6"/><line x1="1808.8" y1="917" x2="1808.8" y2="1081" stroke="#e6e6e6"/><line x1="2017.5" y1="917" x2="2017.5" y2="1081" stroke="#e6e6e6"/><line x1="2227" y1="917" x2="2227" y2="1081" stroke="#e6e6e6"/><text x="1377" y="921.0" font-size="10.9" text-anchor="end" fill="#333" font-family="Liberation Sans">$400,000</text><text x="1377" y="954.1" font-size="10.9" text-anchor="end" fill="#333" font-family="Liberation Sans">$320,000</text><text x="1377" y="987.2" font-size="10.9" text-anchor="end" fill="#333" font-family="Liberation Sans">$240,000</text><text x="1377" y="1020.2" font-size="10.9" text-anchor="end" fill="#333" font-family="Liberation Sans">$160,000</text><text x="1377" y="1053.3" font-size="10.9" text-anchor="end" fill="#333" font-family="Liberation Sans">$80,000</text><text x="1377" y="1086.4" font-size="10.9" text-anchor="end" fill="#333" font-family="Liberation Sans">$0</text><path d="M1390 1081.5 L1390 1018.3 L1599 925.2 L1808.8 953.4 L2017.5 1032 L2227 924.2 L2436 999.8 L2436 1081.5 Z" fill="#cbdd5a" stroke="none"/><path d="M1390 1017.5 L1599 924.4000000000001 L1808.8 952.6 L2017.5 1031.2 L2227 923.4000000000001 L2436 999.0" fill="none" stroke="#e9efc2" stroke-width="1"/><text x="1389" y="1097" font-size="10.9" text-anchor="middle" fill="#333" font-family="Liberation Sans">Month Ending 03/31/2017</text><text x="1599" y="1097" font-size="10.9" text-anchor="middle" fill="#333" font-family="Liberation Sans">Month Ending 04/30/2017</text><text x="1808.8" y="1097" font-size="10.9" text-anchor="middle" fill="#333" font-family="Liberation Sans">Month Ending 05/31/2017</text><text x="2017.5" y="1097" font-size="10.9" text-anchor="middle" fill="#333" font-family="Liberation Sans">Month Ending 06/30/2017</text><text x="2227" y="1097" font-size="10.9" text-anchor="middle" fill="#333" font-family="Liberation Sans">Month Ending 07/31/2017</text><text x="2436" y="1097" font-size="10.9" text-anchor="middle" fill="#333" font-family="Liberation Sans">Month Ending 08/31/2017</text></svg>
<svg class="r" style="left:2482px;top:906px;" width="21" height="20" viewBox="0 0 21 20"><defs><linearGradient id="g2482906" x1="0" y1="0" x2="0" y2="1"><stop offset="0" stop-color="#fbfbfb"/><stop offset="1" stop-color="#d9d9d9"/></linearGradient></defs><rect x="0.75" y="0.75" width="19.5" height="18.5" rx="2.5" fill="url(#g2482906)" stroke="#c6c6c6" stroke-width="1.5"/><path d="M4.5 12.8 L4.5 16.3 L16.5 16.3 L16.5 12.8" fill="none" stroke="#999" stroke-width="1.3"/><path d="M9.4 3.8 L11.6 3.8 L11.6 10.2 L13.6 10.2 L10.5 14.6 L7.4 10.2 L9.4 10.2 Z" fill="#fff" stroke="#8a8a8a" stroke-width="1" stroke-linejoin="round"/></svg>
<svg class="r" style="left:2369px;top:1071px" width="133" height="33" viewBox="2369 1071 133 33"><rect x="2369.5" y="1071.5" width="132" height="32" fill="none" stroke="rgba(0,0,0,0.03)"/><circle cx="2387" cy="1085" r="6" fill="none" stroke="rgba(0,0,0,0.06)" stroke-width="2"/><path d="M2382.5 1089.5 L2377 1095" stroke="rgba(0,0,0,0.06)" stroke-width="2.2"/><text x="2400.5" y="1093" font-size="18" fill="rgba(0,0,0,0.055)" font-family="Liberation Sans">Show Data</text></svg>
<div class="r" style="left:1297.5px;top:1136px;width:1225.5px;height:165px;background:#fff;border:2px solid #d4dce1;border-radius:5px;"></div>
<svg class="r" style="left:1311.5px;top:1163px;" width="13" height="8" viewBox="0 0 13 8"><path d="M1 1 L6.5 6.5 L12 1" fill="none" stroke="#333" stroke-width="1.4"/></svg>
<div class="t" style="left:1339.50px;top:1149.76px;font-size:16px;line-height:16px;color:#333;font-weight:normal;">CMRR</div>
<div class="t" style="left:1339.50px;top:1170.84px;font-size:12px;line-height:12px;color:#666;font-weight:normal;">07/22/2020 04:25:04</div>
<div class="r" style="left:1308.5px;top:1194px;width:1203.5px;height:2px;background:#d9e2e6;"></div>
<svg class="r" style="left:2383.0px;top:1156px" width="20.0" height="20" viewBox="2383.0 1156 20.0 20"><g transform="translate(2385.0,1158)"><path d="M0.7 0.8 L14.3 0.8 L9.1 6.9 L9.1 14.4 L6 12.6 L6 6.9 Z" fill="none" stroke="#c4c4c4" stroke-width="1.2" stroke-linejoin="round"/></g></svg>
<svg class="r" style="left:2404.0px;top:1156px" width="20.0" height="20" viewBox="2404.0 1156 20.0 20"><g transform="translate(2406.0,1158)"><path d="M0.6 14.4 L1.2 10.6 L11.3 0.9 Q12.9 -0.5 14.3 0.9 Q15.6 2.3 14.2 3.8 L4.3 13.7 Z M9.9 2.3 L12.8 5.2 M1.2 10.6 L4.3 13.7" fill="none" stroke="#333" stroke-width="1.2" stroke-linejoin="round"/></g></svg>
<svg class="r" style="left:2425.0px;top:1156px" width="20.0" height="20" viewBox="2425.0 1156 20.0 20"><g transform="translate(2427.0,1158)"><path d="M0.7 8.3 A6.8 6.8 0 0 1 13.2 4.4 M14.3 7.2 A6.8 6.8 0 0 1 1.8 11" fill="none" stroke="#333" stroke-width="1.2"/><path d="M14.9 0.2 L14.9 4.6 L10.5 4.6 M0.1 14.8 L0.1 10.4 L4.5 10.4" fill="none" stroke="#333" stroke-width="1.2"/></g></svg>
<svg class="r" style="left:2445.5px;top:1156px" width="20.0" height="20" viewBox="2445.5 1156 20.0 20"><g transform="translate(2447.5,1158)"><circle cx="6.4" cy="6.5" r="5.8" fill="none" stroke="#333" stroke-width="1.2"/><path d="M10.6 10.7 L15 15.1" stroke="#333" stroke-width="1.4"/></g></svg>
<svg class="r" style="left:2467.1px;top:1156.2px" width="20.0" height="20.0" viewBox="2467.1 1156.2 20.0 20.0"><path d="M2478.42 1160.84 L2477.92 1158.71 L2474.48 1158.71 L2473.98 1160.84 A5.25 5.25 0 0 0 2473.19 1161.30 L2471.09 1160.67 L2469.38 1163.64 L2470.97 1165.14 A5.25 5.25 0 0 0 2470.97 1166.06 L2469.38 1167.56 L2471.09 1170.53 L2473.19 1169.90 A5.25 5.25 0 0 0 2473.98 1170.36 L2474.48 1172.49 L2477.92 1172.49 L2478.42 1170.36 A5.25 5.25 0 0 0 2479.21 1169.90 L2481.31 1170.53 L2483.02 1167.56 L2481.43 1166.06 A5.25 5.25 0 0 0 2481.43 1165.14 L2483.02 1163.64 L2481.31 1160.67 L2479.21 1161.30 A5.25 5.25 0 0 0 2478.42 1160.84 Z" fill="none" stroke="#333" stroke-width="1.2" stroke-linejoin="round"/><circle cx="2476.2" cy="1165.6" r="2.27" fill="none" stroke="#333" stroke-width="1.2"/></svg>
<svg class="r" style="left:2487.9px;top:1156.2px" width="20.0" height="20.0" viewBox="2487.9 1156.2 20.0 20.0"><g transform="translate(2489.9,1158.2)"><path d="M0 2.3 L12.6 2.3 M4.2 2.3 L4.2 0.6 L8.4 0.6 L8.4 2.3 M1.3 2.3 L1.3 13.6 Q1.3 14.5 2.2 14.5 L10.4 14.5 Q11.3 14.5 11.3 13.6 L11.3 2.3" fill="none" stroke="#333" stroke-width="1.2"/><path d="M4 4.6 L4 12.6 M6.3 4.6 L6.3 12.6 M8.6 4.6 L8.6 12.6" stroke="#333" stroke-width="1.1"/></g></svg>
<div class="r" style="left:60px;top:840px;width:1227px;height:461px;background:#fff;border:2px solid #d4dce1;border-radius:5px;"></div>
<svg class="r" style="left:74px;top:867px;" width="13" height="8" viewBox="0 0 13 8"><path d="M1 1 L6.5 6.5 L12 1" fill="none" stroke="#333" stroke-width="1.4"/></svg>
<div class="t" style="left:102.00px;top:853.76px;font-size:16px;line-height:16px;color:#333;font-weight:normal;">Revenue Trend</div>
<div class="t" style="left:102.00px;top:874.84px;font-size:12px;line-height:12px;color:#666;font-weight:normal;">07/22/2020 04:25:08</div>
<div class="r" style="left:71px;top:898px;width:1205px;height:2px;background:#d9e2e6;"></div>
<svg class="r" style="left:1147.0px;top:860px" width="20.0" height="20" viewBox="1147.0 860 20.0 20"><g transform="translate(1149.0,862)"><path d="M0.7 0.8 L14.3 0.8 L9.1 6.9 L9.1 14.4 L6 12.6 L6 6.9 Z" fill="none" stroke="#c4c4c4" stroke-width="1.2" stroke-linejoin="round"/></g></svg>
<svg class="r" style="left:1168.0px;top:860px" width="20.0" height="20" viewBox="1168.0 860 20.0 20"><g transform="translate(1170.0,862)"><path d="M0.6 14.4 L1.2 10.6 L11.3 0.9 Q12.9 -0.5 14.3 0.9 Q15.6 2.3 14.2 3.8 L4.3 13.7 Z M9.9 2.3 L12.8 5.2 M1.2 10.6 L4.3 13.7" fill="none" stroke="#333" stroke-width="1.2" stroke-linejoin="round"/></g></svg>
<svg class="r" style="left:1189.0px;top:860px" width="20.0" height="20" viewBox="1189.0 860 20.0 20"><g transform="translate(1191.0,862)"><path d="M0.7 8.3 A6.8 6.8 0 0 1 13.2 4.4 M14.3 7.2 A6.8 6.8 0 0 1 1.8 11" fill="none" stroke="#333" stroke-width="1.2"/><path d="M14.9 0.2 L14.9 4.6 L10.5 4.6 M0.1 14.8 L0.1 10.4 L4.5 10.4" fill="none" stroke="#333" stroke-width="1.2"/></g></svg>
<svg class="r" style="left:1209.5px;top:860px" width="20.0" height="20" viewBox="1209.5 860 20.0 20"><g transform="translate(1211.5,862)"><circle cx="6.4" cy="6.5" r="5.8" fill="none" stroke="#333" stroke-width="1.2"/><path d="M10.6 10.7 L15 15.1" stroke="#333" stroke-width="1.4"/></g></svg>
<svg class="r" style="left:1231.1px;top:860.2px" width="20.0" height="20.0" viewBox="1231.1 860.2 20.0 20.0"><path d="M1242.42 864.84 L1241.92 862.71 L1238.48 862.71 L1237.98 864.84 A5.25 5.25 0 0 0 1237.19 865.30 L1235.09 864.67 L1233.38 867.64 L1234.97 869.14 A5.25 5.25 0 0 0 1234.97 870.06 L1233.38 871.56 L1235.09 874.53 L1237.19 873.90 A5.25 5.25 0 0 0 1237.98 874.36 L1238.48 876.49 L1241.92 876.49 L1242.42 874.36 A5.25 5.25 0 0 0 1243.21 873.90 L1245.31 874.53 L1247.02 871.56 L1245.43 870.06 A5.25 5.25 0 0 0 1245.43 869.14 L1247.02 867.64 L1245.31 864.67 L1243.21 865.30 A5.25 5.25 0 0 0 1242.42 864.84 Z" fill="none" stroke="#333" stroke-width="1.2" stroke-linejoin="round"/><circle cx="1240.1999999999998" cy="869.6" r="2.27" fill="none" stroke="#333" stroke-width="1.2"/></svg>
<svg class="r" style="left:1251.9px;top:860.2px" width="20.0" height="20.0" viewBox="1251.9 860.2 20.0 20.0"><g transform="translate(1253.9,862.2)"><path d="M0 2.3 L12.6 2.3 M4.2 2.3 L4.2 0.6 L8.4 0.6 L8.4 2.3 M1.3 2.3 L1.3 13.6 Q1.3 14.5 2.2 14.5 L10.4 14.5 Q11.3 14.5 11.3 13.6 L11.3 2.3" fill="none" stroke="#333" stroke-width="1.2"/><path d="M4 4.6 L4 12.6 M6.3 4.6 L6.3 12.6 M8.6 4.6 L8.6 12.6" stroke="#333" stroke-width="1.1"/></g></svg>
<div class="r" style="left:76px;top:916px;width:1195px;height:384px;background:#f8f8f8;"></div>
<div class="r" style="left:76px;top:958px;width:1195px;height:54px;background:#f0f0f0;"></div>
<div class="t" style="left:-531.50px;width:1200px;text-align:right;top:958.04px;font-size:12px;line-height:12px;color:#333;font-weight:normal;">Revenue</div>
<div class="t" style="left:-531.50px;width:1200px;text-align:right;top:971.44px;font-size:12px;line-height:12px;color:#333;font-weight:normal;">Year To Date</div>
<div class="t" style="left:-531.50px;width:1200px;text-align:right;top:985.14px;font-size:12px;line-height:12px;color:#333;font-weight:normal;">08/31/2015</div>
<div class="t" style="left:-531.50px;width:1200px;text-align:right;top:998.94px;font-size:12px;line-height:12px;color:#333;font-weight:normal;">Actual</div>
<div class="t" style="left:299.00px;width:1200px;text-align:center;top:958.04px;font-size:12px;line-height:12px;color:#333;font-weight:normal;">Revenue</div>
<div class="t" style="left:299.00px;width:1200px;text-align:center;top:971.44px;font-size:12px;line-height:12px;color:#333;font-weight:normal;">Year To Date</div>
<div class="t" style="left:299.00px;width:1200px;text-align:center;top:985.14px;font-size:12px;line-height:12px;color:#333;font-weight:normal;">08/31/2016</div>
<div class="t" style="left:-311.50px;width:1200px;text-align:right;top:998.94px;font-size:12px;line-height:12px;color:#333;font-weight:normal;">Actual</div>
<div class="t" style="left:-133.50px;width:1200px;text-align:right;top:998.94px;font-size:12px;line-height:12px;color:#333;font-weight:normal;">Period % Var</div>
<div class="t" style="left:59.00px;width:1200px;text-align:right;top:958.04px;font-size:12px;line-height:12px;color:#333;font-weight:normal;">Revenue</div>
<div class="t" style="left:59.00px;width:1200px;text-align:right;top:971.44px;font-size:12px;line-height:12px;color:#333;font-weight:normal;">Year To Date</div>
<div class="t" style="left:59.00px;width:1200px;text-align:right;top:985.14px;font-size:12px;line-height:12px;color:#333;font-weight:normal;">08/31/2017</div>
<div class="t" style="left:59.00px;width:1200px;text-align:right;top:998.94px;font-size:12px;line-height:12px;color:#333;font-weight:normal;">Actual</div>
<div class="t" style="left:87.00px;top:1012.54px;font-size:12px;line-height:12px;color:#2b2bd3;font-weight:normal;">USA</div>
<div class="r" style="left:502px;top:1026px;width:178px;height:14px;background:#c6eaed;"></div>
<div class="r" style="left:721px;top:1026px;width:178px;height:14px;background:#fdefd8;"></div>
<div class="r" style="left:1077px;top:1026px;width:193px;height:14px;background:#e6f4dc;"></div>
<div class="r" style="left:502px;top:1040px;width:178px;height:1px;background:#7d7d7d;"></div>
<div class="r" style="left:721px;top:1040px;width:549px;height:1px;background:#7d7d7d;"></div>
<div class="t" style="left:107.00px;top:1026.54px;font-size:12px;line-height:12px;color:#2b2bd3;font-weight:normal;">Northwest</div>
<div class="t" style="left:-531.50px;width:1200px;text-align:right;top:1026.54px;font-size:12px;line-height:12px;color:#333;font-weight:normal;">253,396.39</div>
<div class="t" style="left:-311.50px;width:1200px;text-align:right;top:1026.54px;font-size:12px;line-height:12px;color:#333;font-weight:normal;">572,935.84</div>
<div class="t" style="left:-133.50px;width:1200px;text-align:right;top:1026.54px;font-size:12px;line-height:12px;color:#333;font-weight:normal;">126.10</div>
<div class="t" style="left:59.00px;width:1200px;text-align:right;top:1026.54px;font-size:12px;line-height:12px;color:#333;font-weight:normal;">625,626.93</div>
<div class="r" style="left:502px;top:1041px;width:178px;height:14px;background:#8ed6dc;"></div>
<div class="r" style="left:721px;top:1041px;width:178px;height:14px;background:#f6ca6e;"></div>
<div class="r" style="left:1077px;top:1041px;width:193px;height:14px;background:#93cb5e;"></div>
<div class="r" style="left:502px;top:1055px;width:178px;height:1px;background:#7d7d7d;"></div>
<div class="r" style="left:721px;top:1055px;width:549px;height:1px;background:#7d7d7d;"></div>
<div class="t" style="left:107.00px;top:1041.54px;font-size:12px;line-height:12px;color:#2b2bd3;font-weight:normal;">Southwest</div>
<div class="t" style="left:-531.50px;width:1200px;text-align:right;top:1041.54px;font-size:12px;line-height:12px;color:#333;font-weight:normal;">618,954.44</div>
<div class="t" style="left:-311.50px;width:1200px;text-align:right;top:1041.54px;font-size:12px;line-height:12px;color:#333;font-weight:normal;">2,357,021.81</div>
<div class="t" style="left:-133.50px;width:1200px;text-align:right;top:1041.54px;font-size:12px;line-height:12px;color:#333;font-weight:normal;">280.80</div>
<div class="t" style="left:59.00px;width:1200px;text-align:right;top:1041.54px;font-size:12px;line-height:12px;color:#333;font-weight:normal;">6,066,019.66</div>
<div class="r" style="left:502px;top:1056px;width:178px;height:14px;background:#ddf2f4;"></div>
<div class="r" style="left:721px;top:1056px;width:178px;height:14px;background:#fce6c0;"></div>
<div class="r" style="left:899px;top:1056px;width:178px;height:14px;background:#c8c8c8;"></div>
<svg class="r" style="left:1070px;top:1056px;" width="7" height="7" viewBox="0 0 7 7"><path d="M0 0 L7 0 L7 7 Z" fill="#7a7a7a"/></svg>
<div class="r" style="left:1077px;top:1056px;width:193px;height:14px;background:#c9e6b0;"></div>
<div class="r" style="left:502px;top:1070px;width:178px;height:1px;background:#7d7d7d;"></div>
<div class="r" style="left:721px;top:1070px;width:549px;height:1px;background:#7d7d7d;"></div>
<div class="t" style="left:107.00px;top:1056.54px;font-size:12px;line-height:12px;color:#2b2bd3;font-weight:normal;">Midwest</div>
<div class="t" style="left:-531.50px;width:1200px;text-align:right;top:1056.54px;font-size:12px;line-height:12px;color:#333;font-weight:normal;">156,948.69</div>
<div class="t" style="left:-311.50px;width:1200px;text-align:right;top:1056.54px;font-size:12px;line-height:12px;color:#333;font-weight:normal;">1,015,558.02</div>
<div class="t" style="left:-133.50px;width:1200px;text-align:right;top:1056.54px;font-size:12px;line-height:12px;color:#333;font-weight:normal;">547.06</div>
<div class="t" style="left:59.00px;width:1200px;text-align:right;top:1056.54px;font-size:12px;line-height:12px;color:#333;font-weight:normal;">2,301,771.40</div>
<div class="r" style="left:502px;top:1071px;width:178px;height:14px;background:#c0e6e9;"></div>
<div class="r" style="left:721px;top:1071px;width:178px;height:14px;background:#fdebcd;"></div>
<div class="r" style="left:1077px;top:1071px;width:193px;height:14px;background:#c2e3a6;"></div>
<div class="r" style="left:502px;top:1085px;width:178px;height:1px;background:#7d7d7d;"></div>
<div class="r" style="left:721px;top:1085px;width:549px;height:1px;background:#7d7d7d;"></div>
<div class="t" style="left:107.00px;top:1071.54px;font-size:12px;line-height:12px;color:#2b2bd3;font-weight:normal;">Northeast</div>
<div class="t" style="left:-531.50px;width:1200px;text-align:right;top:1071.54px;font-size:12px;line-height:12px;color:#333;font-weight:normal;">308,023.64</div>
<div class="t" style="left:-311.50px;width:1200px;text-align:right;top:1071.54px;font-size:12px;line-height:12px;color:#333;font-weight:normal;">756,306.41</div>
<div class="t" style="left:-133.50px;width:1200px;text-align:right;top:1071.54px;font-size:12px;line-height:12px;color:#333;font-weight:normal;">145.53</div>
<div class="t" style="left:59.00px;width:1200px;text-align:right;top:1071.54px;font-size:12px;line-height:12px;color:#333;font-weight:normal;">3,239,023.43</div>
<div class="r" style="left:502px;top:1086px;width:178px;height:14px;background:#b2e1e5;"></div>
<div class="r" style="left:721px;top:1086px;width:178px;height:14px;background:#f9deaa;"></div>
<div class="r" style="left:1077px;top:1086px;width:193px;height:14px;background:#b8de98;"></div>
<div class="r" style="left:502px;top:1100px;width:178px;height:2px;background:#8a8a8a;"></div>
<div class="r" style="left:721px;top:1100px;width:549px;height:2px;background:#8a8a8a;"></div>
<div class="t" style="left:107.00px;top:1086.54px;font-size:12px;line-height:12px;color:#2b2bd3;font-weight:normal;">Southeast</div>
<div class="t" style="left:-531.50px;width:1200px;text-align:right;top:1086.54px;font-size:12px;line-height:12px;color:#333;font-weight:normal;">411,136.69</div>
<div class="t" style="left:-311.50px;width:1200px;text-align:right;top:1086.54px;font-size:12px;line-height:12px;color:#333;font-weight:normal;">1,360,805.67</div>
<div class="t" style="left:-133.50px;width:1200px;text-align:right;top:1086.54px;font-size:12px;line-height:12px;color:#333;font-weight:normal;">230.98</div>
<div class="t" style="left:59.00px;width:1200px;text-align:right;top:1086.54px;font-size:12px;line-height:12px;color:#333;font-weight:normal;">3,466,968.58</div>
<div class="t" style="left:87.00px;top:1101.84px;font-size:12px;line-height:12px;color:#333;font-weight:normal;">Total USA</div>
<div class="t" style="left:-531.50px;width:1200px;text-align:right;top:1105.84px;font-size:12px;line-height:12px;color:#333;font-weight:normal;">1,748,459.85</div>
<div class="t" style="left:-311.50px;width:1200px;text-align:right;top:1105.84px;font-size:12px;line-height:12px;color:#333;font-weight:normal;">6,062,627.75</div>
<div class="t" style="left:-133.50px;width:1200px;text-align:right;top:1105.84px;font-size:12px;line-height:12px;color:#333;font-weight:normal;">246.74</div>
<div class="t" style="left:59.00px;width:1200px;text-align:right;top:1105.84px;font-size:12px;line-height:12px;color:#333;font-weight:normal;">15,699,410.00</div>
<div class="r" style="left:502px;top:1122px;width:178px;height:1px;background:#999;"></div>
<div class="r" style="left:502px;top:1124px;width:178px;height:2px;background:#999;"></div>
<div class="r" style="left:721px;top:1122px;width:549px;height:1px;background:#999;"></div>
<div class="r" style="left:721px;top:1124px;width:549px;height:2px;background:#999;"></div>
<div class="t" style="left:87.00px;top:1125.54px;font-size:12px;line-height:12px;color:#2b2bd3;font-weight:normal;">All Sectors</div>
<div class="r" style="left:502px;top:1139px;width:178px;height:14px;background:#c6eaed;"></div>
<div class="r" style="left:721px;top:1139px;width:178px;height:14px;background:#f9dda5;"></div>
<div class="r" style="left:899px;top:1139px;width:178px;height:14px;background:#c8c8c8;"></div>
<svg class="r" style="left:1070px;top:1139px;" width="7" height="7" viewBox="0 0 7 7"><path d="M0 0 L7 0 L7 7 Z" fill="#7a7a7a"/></svg>
<div class="r" style="left:1077px;top:1139px;width:193px;height:14px;background:#d3ebc0;"></div>
<div class="r" style="left:502px;top:1153px;width:178px;height:1px;background:#7d7d7d;"></div>
<div class="r" style="left:721px;top:1153px;width:549px;height:1px;background:#7d7d7d;"></div>
<div class="t" style="left:107.00px;top:1139.54px;font-size:12px;line-height:12px;color:#2b2bd3;font-weight:normal;">Banking</div>
<div class="t" style="left:-531.50px;width:1200px;text-align:right;top:1139.54px;font-size:12px;line-height:12px;color:#333;font-weight:normal;">147,313.18</div>
<div class="t" style="left:-311.50px;width:1200px;text-align:right;top:1139.54px;font-size:12px;line-height:12px;color:#333;font-weight:normal;">967,481.31</div>
<div class="t" style="left:-133.50px;width:1200px;text-align:right;top:1139.54px;font-size:12px;line-height:12px;color:#333;font-weight:normal;">556.75</div>
<div class="t" style="left:59.00px;width:1200px;text-align:right;top:1139.54px;font-size:12px;line-height:12px;color:#333;font-weight:normal;">2,288,555.69</div>
<div class="r" style="left:502px;top:1154px;width:178px;height:14px;background:#8ed6dc;"></div>
<div class="r" style="left:721px;top:1154px;width:178px;height:14px;background:#f8d283;"></div>
<div class="r" style="left:1077px;top:1154px;width:193px;height:14px;background:#bde09f;"></div>
<div class="r" style="left:502px;top:1168px;width:178px;height:1px;background:#7d7d7d;"></div>
<div class="r" style="left:721px;top:1168px;width:549px;height:1px;background:#7d7d7d;"></div>
<div class="t" style="left:107.00px;top:1154.54px;font-size:12px;line-height:12px;color:#2b2bd3;font-weight:normal;">Energy</div>
<div class="t" style="left:-531.50px;width:1200px;text-align:right;top:1154.54px;font-size:12px;line-height:12px;color:#333;font-weight:normal;">543,238.64</div>
<div class="t" style="left:-311.50px;width:1200px;text-align:right;top:1154.54px;font-size:12px;line-height:12px;color:#333;font-weight:normal;">1,375,506.38</div>
<div class="t" style="left:-133.50px;width:1200px;text-align:right;top:1154.54px;font-size:12px;line-height:12px;color:#333;font-weight:normal;">153.20</div>
<div class="t" style="left:59.00px;width:1200px;text-align:right;top:1154.54px;font-size:12px;line-height:12px;color:#333;font-weight:normal;">3,304,334.99</div>
<div class="r" style="left:502px;top:1169px;width:178px;height:14px;background:#b9e3e7;"></div>
<div class="r" style="left:721px;top:1169px;width:178px;height:14px;background:#f9dda5;"></div>
<div class="r" style="left:1077px;top:1169px;width:193px;height:14px;background:#e5f3da;"></div>
<div class="r" style="left:502px;top:1183px;width:178px;height:1px;background:#7d7d7d;"></div>
<div class="r" style="left:721px;top:1183px;width:549px;height:1px;background:#7d7d7d;"></div>
<div class="t" style="left:107.00px;top:1169.54px;font-size:12px;line-height:12px;color:#2b2bd3;font-weight:normal;">FinTech</div>
<div class="t" style="left:-531.50px;width:1200px;text-align:right;top:1169.54px;font-size:12px;line-height:12px;color:#333;font-weight:normal;">241,958.05</div>
<div class="t" style="left:-311.50px;width:1200px;text-align:right;top:1169.54px;font-size:12px;line-height:12px;color:#333;font-weight:normal;">940,192.68</div>
<div class="t" style="left:-133.50px;width:1200px;text-align:right;top:1169.54px;font-size:12px;line-height:12px;color:#333;font-weight:normal;">288.57</div>
<div class="t" style="left:59.00px;width:1200px;text-align:right;top:1169.54px;font-size:12px;line-height:12px;color:#333;font-weight:normal;">1,070,771.26</div>
<div class="r" style="left:502px;top:1184px;width:178px;height:14px;background:#8ed6dc;"></div>
<div class="r" style="left:721px;top:1184px;width:178px;height:14px;background:#f6ca6e;"></div>
<div class="r" style="left:1077px;top:1184px;width:193px;height:14px;background:#8fc95a;"></div>
<div class="r" style="left:502px;top:1198px;width:178px;height:1px;background:#7d7d7d;"></div>
<div class="r" style="left:721px;top:1198px;width:549px;height:1px;background:#7d7d7d;"></div>
<div class="t" style="left:107.00px;top:1184.54px;font-size:12px;line-height:12px;color:#2b2bd3;font-weight:normal;">Healthcare</div>
<div class="t" style="left:-531.50px;width:1200px;text-align:right;top:1184.54px;font-size:12px;line-height:12px;color:#333;font-weight:normal;">505,785.87</div>
<div class="t" style="left:-311.50px;width:1200px;text-align:right;top:1184.54px;font-size:12px;line-height:12px;color:#333;font-weight:normal;">1,768,338.59</div>
<div class="t" style="left:-133.50px;width:1200px;text-align:right;top:1184.54px;font-size:12px;line-height:12px;color:#333;font-weight:normal;">249.62</div>
<div class="t" style="left:59.00px;width:1200px;text-align:right;top:1184.54px;font-size:12px;line-height:12px;color:#333;font-weight:normal;">5,211,447.82</div>
<div class="r" style="left:0px;top:1196px;width:2560px;height:40px;background:#fff;"></div>
<div class="r" style="left:50px;top:1195px;width:2510px;height:2px;background:#3c3c3c;"></div>
<div class="t" style="left:75.50px;top:1213.84px;font-size:10px;line-height:10px;color:#999;font-weight:normal;">Privacy Policy</div>
<div class="t" style="left:165.00px;top:1213.84px;font-size:10px;line-height:10px;color:#999;font-weight:normal;">Copyright © 1999-2020 Sage Intacct, Inc.</div>
<div class="t" style="left:2401.00px;top:1203.04px;font-size:28.3px;line-height:28.3px;color:#00d800;font-weight:bold;transform:scaleX(0.815);transform-origin:0 0;">sage</div>
<div class="t" style="left:2460.50px;top:1203.72px;font-size:27.5px;line-height:27.5px;color:#a4a4a4;font-weight:normal;transform:scaleX(0.9);transform-origin:0 0;">Intacct</div>
</body></html>
